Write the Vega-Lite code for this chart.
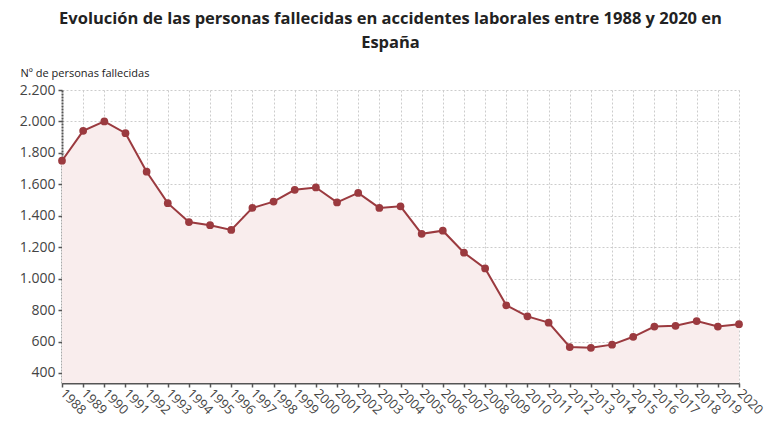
{
  "$schema": "https://vega.github.io/schema/vega-lite/v6.json",
  "width": 677,
  "height": 293,
  "autosize": {"type": "none"},
  "padding": {"left": 62, "top": 90, "right": 41, "bottom": 57},
  "background": "#ffffff",
  "config": {
    "font": "Open Sans",
    "view": {"stroke": null},
    "locale": {"number": {"decimal": ",", "thousands": ".", "grouping": [3], "currency": ["", " €"]}}
  },
  "title": {
    "text": ["Evolución de las personas fallecidas en accidentes laborales entre 1988 y 2020 en", "España"],
    "anchor": "middle",
    "frame": "group",
    "font": "Open Sans",
    "fontSize": 16.5,
    "fontWeight": "bold",
    "color": "#222222",
    "lineHeight": 24,
    "offset": 16,
    "dx": -10,
    "baseline": "top"
  },
  "data": {
    "values": [
      {"year": 1988, "deaths": 1750},
      {"year": 1989, "deaths": 1940},
      {"year": 1990, "deaths": 2000},
      {"year": 1991, "deaths": 1925},
      {"year": 1992, "deaths": 1680},
      {"year": 1993, "deaths": 1480},
      {"year": 1994, "deaths": 1360},
      {"year": 1995, "deaths": 1340},
      {"year": 1996, "deaths": 1310},
      {"year": 1997, "deaths": 1450},
      {"year": 1998, "deaths": 1490},
      {"year": 1999, "deaths": 1565},
      {"year": 2000, "deaths": 1580},
      {"year": 2001, "deaths": 1485},
      {"year": 2002, "deaths": 1545},
      {"year": 2003, "deaths": 1450},
      {"year": 2004, "deaths": 1460},
      {"year": 2005, "deaths": 1285},
      {"year": 2006, "deaths": 1305},
      {"year": 2007, "deaths": 1165},
      {"year": 2008, "deaths": 1065},
      {"year": 2009, "deaths": 830},
      {"year": 2010, "deaths": 760},
      {"year": 2011, "deaths": 720},
      {"year": 2012, "deaths": 565},
      {"year": 2013, "deaths": 560},
      {"year": 2014, "deaths": 580},
      {"year": 2015, "deaths": 630},
      {"year": 2016, "deaths": 695},
      {"year": 2017, "deaths": 700},
      {"year": 2018, "deaths": 730},
      {"year": 2019, "deaths": 695},
      {"year": 2020, "deaths": 710}
    ]
  },
  "encoding": {
    "x": {
      "field": "year",
      "type": "quantitative",
      "scale": {"domain": [1988, 2020], "nice": false, "zero": false},
      "axis": {
        "values": [1988,1989,1990,1991,1992,1993,1994,1995,1996,1997,1998,1999,2000,2001,2002,2003,2004,2005,2006,2007,2008,2009,2010,2011,2012,2013,2014,2015,2016,2017,2018,2019,2020],
        "format": "d",
        "title": null,
        "labelAngle": 45,
        "labelAlign": "left",
        "labelBaseline": "middle",
        "labelFontSize": 13,
        "labelColor": "#444444",
        "labelPadding": 4,
        "labelOverlap": false,
        "labelFlush": false,
        "grid": true,
        "gridColor": "#cccccc",
        "gridDash": [2, 2],
        "gridWidth": 1,
        "domainColor": "#555555",
        "domainWidth": 2,
        "tickColor": "#555555",
        "tickSize": 4,
        "tickWidth": 1.5
      }
    },
    "y": {
      "field": "deaths",
      "type": "quantitative",
      "scale": {"domain": [336, 2200], "nice": false, "zero": false},
      "axis": {
        "values": [400, 600, 800, 1000, 1200, 1400, 1600, 1800, 2000, 2200],
        "format": ",d",
        "title": "Nº de personas fallecidas",
        "titleAngle": 0,
        "titleAlign": "left",
        "titleBaseline": "middle",
        "titleX": -42,
        "titleY": -17,
        "titleFontSize": 11,
        "titleFontWeight": 500,
        "titleColor": "#222222",
        "labelFontSize": 14,
        "labelColor": "#444444",
        "labelPadding": 3,
        "grid": true,
        "gridColor": "#cccccc",
        "gridDash": [2, 2],
        "gridWidth": 1,
        "domainColor": "#555555",
        "domainWidth": 2,
        "domainDash": [2, 1],
        "tickColor": "#555555",
        "tickSize": 4,
        "tickWidth": 1.5
      }
    }
  },
  "layer": [
    {
      "mark": {"type": "area", "clip": true, "color": "#f9eded", "opacity": 1},
      "encoding": {}
    },
    {
      "mark": {"type": "line", "color": "#9b3a3f", "strokeWidth": 2},
      "encoding": {}
    },
    {
      "mark": {"type": "point", "filled": true, "color": "#9b3a3f", "size": 60, "opacity": 1},
      "encoding": {}
    }
  ]
}
